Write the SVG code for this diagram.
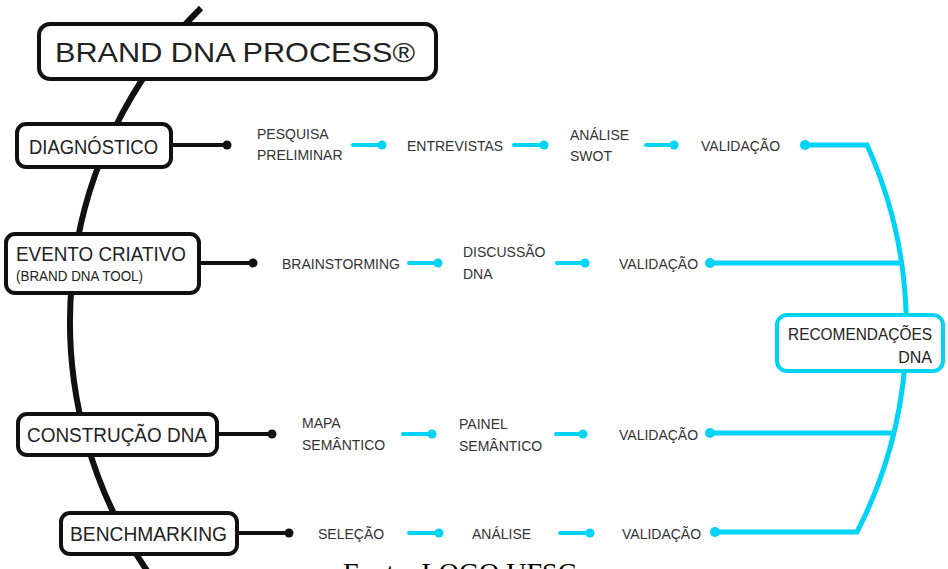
<svg xmlns="http://www.w3.org/2000/svg" width="948" height="569" viewBox="0 0 948 569">
<style>
.spine{fill:none;stroke:#111;stroke-width:6;stroke-linecap:butt}
.box{fill:#fff;stroke:#111;stroke-width:4}
.cbox{fill:#fff;stroke:#00d4f6;stroke-width:4}
.bl{stroke:#111;stroke-width:4;fill:none}
.bd{fill:#111}
.cl{stroke:#00d4f6;stroke-width:4;fill:none;stroke-linecap:round}
.cm{stroke:#00d4f6;stroke-width:5;fill:none;stroke-linejoin:miter}
.cd{fill:#00d4f6}
.t{font-family:"Liberation Sans",Arial,sans-serif;fill:#222}
.s{font-family:"Liberation Sans",Arial,sans-serif;font-size:14px;fill:#333}
.f{font-family:"Liberation Serif","Times New Roman",serif;font-size:28px;fill:#000}
</style>
<path class="spine" d="M 201,8 A 441 441 0 0 0 150,575"/>
<g id="connectors">
  <path class="cm" d="M 805,145 L 867,145 A 446 446 0 0 1 857,532 L 715,532"/>
  <path class="cm" d="M 710,263 L 901,263"/>
  <path class="cm" d="M 710,433 L 893,433"/>
  <circle class="cd" cx="805" cy="145" r="5"/>
  <circle class="cd" cx="710" cy="263" r="5"/>
  <circle class="cd" cx="710" cy="433" r="5"/>
  <circle class="cd" cx="715" cy="532" r="5"/>
  <line class="bl" x1="172" y1="145" x2="227" y2="145"/><circle class="bd" cx="227" cy="145" r="4.5"/>
  <line class="bl" x1="200" y1="263" x2="253" y2="263"/><circle class="bd" cx="253" cy="263" r="4.5"/>
  <line class="bl" x1="218" y1="434" x2="272" y2="434"/><circle class="bd" cx="272" cy="434" r="4.5"/>
  <line class="bl" x1="238" y1="533" x2="289" y2="533"/><circle class="bd" cx="289" cy="533" r="4.5"/>
  <line class="cl" x1="353" y1="145" x2="382" y2="145"/><circle class="cd" cx="382" cy="145" r="4.5"/>
  <line class="cl" x1="514" y1="145" x2="544" y2="145"/><circle class="cd" cx="544" cy="145" r="4.5"/>
  <line class="cl" x1="646" y1="145" x2="674" y2="145"/><circle class="cd" cx="674" cy="145" r="4.5"/>
  <line class="cl" x1="409" y1="263" x2="438" y2="263"/><circle class="cd" cx="438" cy="263" r="4.5"/>
  <line class="cl" x1="557" y1="263" x2="585" y2="263"/><circle class="cd" cx="585" cy="263" r="4.5"/>
  <line class="cl" x1="403" y1="434" x2="432" y2="434"/><circle class="cd" cx="432" cy="434" r="4.5"/>
  <line class="cl" x1="556" y1="434" x2="583" y2="434"/><circle class="cd" cx="583" cy="434" r="4.5"/>
  <line class="cl" x1="409" y1="533" x2="439" y2="533"/><circle class="cd" cx="439" cy="533" r="4.5"/>
  <line class="cl" x1="560" y1="533" x2="590" y2="533"/><circle class="cd" cx="590" cy="533" r="4.5"/>
</g>
<g id="title">
  <rect class="box" x="39" y="24" width="397" height="55" rx="11"/>
  <text class="t" x="55" y="62" font-size="28" textLength="360" lengthAdjust="spacingAndGlyphs">BRAND DNA PROCESS®</text>
</g>
<g id="diagnostico">
  <rect class="box" x="17" y="124" width="154" height="43" rx="9"/>
  <text class="t" x="29" y="154" font-size="20" textLength="129" lengthAdjust="spacingAndGlyphs">DIAGNÓSTICO</text>
</g>
<g id="evento">
  <rect class="box" x="6" y="234" width="193" height="59" rx="9"/>
  <text class="t" x="16" y="261" font-size="20" textLength="170" lengthAdjust="spacingAndGlyphs">EVENTO CRIATIVO</text>
  <text class="t" x="16" y="281" font-size="14" textLength="127" lengthAdjust="spacingAndGlyphs">(BRAND DNA TOOL)</text>
</g>
<g id="construcao">
  <rect class="box" x="18" y="414" width="199" height="41" rx="9"/>
  <text class="t" x="27" y="442" font-size="20" textLength="180" lengthAdjust="spacingAndGlyphs">CONSTRUÇÃO DNA</text>
</g>
<g id="benchmarking">
  <rect class="box" x="61" y="513" width="176" height="41" rx="9"/>
  <text class="t" x="70" y="541" font-size="20" textLength="157" lengthAdjust="spacingAndGlyphs">BENCHMARKING</text>
</g>
<g id="recomendacoes">
  <rect class="cbox" x="777" y="315" width="166" height="56" rx="10"/>
  <text class="t" x="932" y="340" font-size="16" text-anchor="end" textLength="144" lengthAdjust="spacingAndGlyphs">RECOMENDAÇÕES</text>
  <text class="t" x="932" y="363" font-size="16" text-anchor="end">DNA</text>
</g>
<g id="row1">
  <text class="s" x="257" y="139">PESQUISA</text>
  <text class="s" x="257" y="160">PRELIMINAR</text>
  <text class="s" x="407" y="151">ENTREVISTAS</text>
  <text class="s" x="570" y="140">ANÁLISE</text>
  <text class="s" x="570" y="161">SWOT</text>
  <text class="s" x="701" y="151">VALIDAÇÃO</text>
</g>
<g id="row2">
  <text class="s" x="282" y="269">BRAINSTORMING</text>
  <text class="s" x="463" y="257">DISCUSSÃO</text>
  <text class="s" x="463" y="279">DNA</text>
  <text class="s" x="619" y="269">VALIDAÇÃO</text>
</g>
<g id="row3">
  <text class="s" x="302" y="428">MAPA</text>
  <text class="s" x="302" y="450">SEMÂNTICO</text>
  <text class="s" x="459" y="429">PAINEL</text>
  <text class="s" x="459" y="451">SEMÂNTICO</text>
  <text class="s" x="619" y="440">VALIDAÇÃO</text>
</g>
<g id="row4">
  <text class="s" x="318" y="539">SELEÇÃO</text>
  <text class="s" x="472" y="539">ANÁLISE</text>
  <text class="s" x="622" y="539">VALIDAÇÃO</text>
</g>
<text class="f" x="343" y="582">Fonte: LOGO UFSC</text>
</svg>
